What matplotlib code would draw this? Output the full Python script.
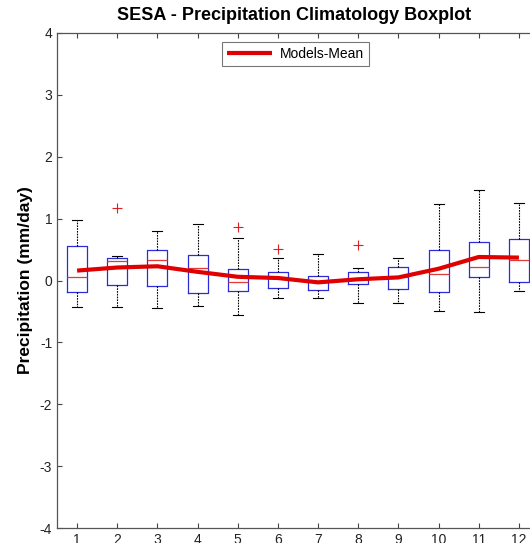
import matplotlib
matplotlib.use("Agg")
import matplotlib.pyplot as plt

plt.rcParams['font.family'] = ['Liberation Sans', 'DejaVu Sans']
plt.rcParams['axes.unicode_minus'] = False

months = [1, 2, 3, 4, 5, 6, 7, 8, 9, 10, 11, 12]
whislo = [-0.43, -0.43, -0.45, -0.41, -0.56, -0.29, -0.29, -0.37, -0.37, -0.50, -0.51, -0.17]
q1     = [-0.19, -0.08, -0.09, -0.21, -0.17, -0.12, -0.16, -0.06, -0.14, -0.18, 0.06, -0.02]
med    = [0.06, 0.31, 0.33, 0.21, -0.02, 0.05, -0.01, 0.02, 0.05, 0.10, 0.22, 0.33]
q3     = [0.55, 0.36, 0.50, 0.41, 0.19, 0.13, 0.07, 0.14, 0.22, 0.50, 0.63, 0.67]
whishi = [0.98, 0.39, 0.80, 0.92, 0.68, 0.37, 0.43, 0.20, 0.36, 1.24, 1.47, 1.26]
outliers = [[], [1.17], [], [], [0.86], [0.51], [], [0.57], [], [], [], []]
models_mean = [0.16, 0.21, 0.23, 0.14, 0.06, 0.04, -0.03, 0.02, 0.05, 0.19, 0.38, 0.37]

stats = []
for i in range(len(months)):
    stats.append(dict(whislo=whislo[i], q1=q1[i], med=med[i], q3=q3[i],
                      whishi=whishi[i], fliers=outliers[i], label=str(months[i])))

fig = plt.figure(figsize=(5.30, 5.43), dpi=100)
ax = fig.add_axes([57/530, 15/543, 482/530, 495/543])

ax.bxp(stats, positions=months, widths=0.5, showfliers=True,
       boxprops=dict(color='#2b2bd9', linewidth=0.9),
       medianprops=dict(color='#e03a3a', linewidth=0.9),
       whiskerprops=dict(color='black', linestyle=(0, (1.5, 1)), linewidth=0.8),
       capprops=dict(color='black', linewidth=0.8),
       capwidths=0.25,
       flierprops=dict(marker='+', markeredgecolor='#e02020', markersize=6.5,
                       markeredgewidth=0.8, linestyle='none'))

ax.plot(months, models_mean, color='#e00000', linewidth=3.0, label='Models-Mean',
        solid_capstyle='butt', zorder=5)

ax.set_xlim(0.5, 12.5)
ax.set_ylim(-4, 4)
ax.set_xticks(months)
ax.set_xticklabels([str(m) for m in months])
ax.set_yticks(range(-4, 5))
ax.tick_params(direction='in', labelsize=10, top=True, right=True, length=3.5,
               color='#444444', labelcolor='#222222')
for s in ax.spines.values():
    s.set_color('#555555')
    s.set_linewidth(0.9)

ax.set_title('SESA - Precipitation Climatology Boxplot', fontsize=13,
             fontweight='bold', pad=9, x=(294-57)/482)
ax.set_ylabel('Precipitation (mm/day)', fontsize=12.5, fontweight='bold', labelpad=5)

leg = ax.legend(loc='upper center', bbox_to_anchor=(0.495, 0.995), fontsize=10,
                fancybox=False, edgecolor='#555555', handlelength=3.2,
                borderpad=0.35, handletextpad=0.6)
leg.get_frame().set_linewidth(0.8)

fig.savefig('out.png', dpi=100)
